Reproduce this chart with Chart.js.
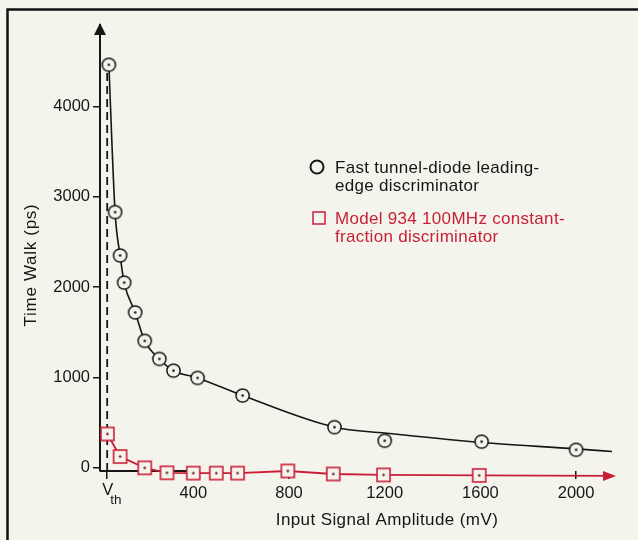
<!DOCTYPE html>
<html><head><meta charset="utf-8">
<script src="https://cdn.jsdelivr.net/npm/chart.js@4.4.1/dist/chart.umd.min.js"></script>
<style>html,body{margin:0;padding:0;background:#f5f4ec;overflow:hidden;}canvas{display:block;}</style>
</head><body>
<canvas id="c" width="638" height="540"></canvas>
<script>
// ---- data ----
const vthValue = 40;                                   // V_th position (mV)
const xTickValues = [40, 400, 800, 1200, 1600, 2000];
const yTickValues = [0, 1000, 2000, 3000, 4000];
const tunnelX = [47, 73, 94, 111, 157, 197, 258, 317, 418, 606, 990, 1200, 1605, 2000];
const tunnelY = [4460, 2830, 2350, 2050, 1720, 1405, 1205, 1075, 995, 800, 450, 300, 290, 200];
const tunnelCurveX = [47, 73, 94, 111, 157, 197, 258, 317, 418, 606, 990, 1200, 1605, 2000, 2150];
const tunnelCurveY = [4460, 2830, 2350, 2050, 1720, 1405, 1205, 1075, 995, 800, 450, 385, 280, 210, 180];
const cfdX = [41, 94, 197, 290, 400, 496, 585, 795, 985, 1195, 1595, 2150];
const cfdY = [375, 125, 0, -55, -58, -58, -58, -35, -68, -78, -84, -90];
const vthLineY = [-35, 4380];
const labelTunnel = ["Fast tunnel-diode leading-", "edge discriminator"];
const labelCfd = ["Model 934 100MHz constant-", "fraction discriminator"];
const xTitle = "Input Signal Amplitude (mV)";
const yTitle = "Time Walk (ps)";

const BG = '#f5f4ec';
const INK = '#161616';
const RED = '#c81f38';
const FONT = "'Liberation Sans', Arial, Helvetica, sans-serif";

function circleImg() {
  const c = document.createElement('canvas'); c.width = 17; c.height = 17;
  const g = c.getContext('2d');
  g.beginPath(); g.arc(8.5, 8.5, 6.6, 0, Math.PI * 2);
  g.fillStyle = BG; g.fill(); g.lineWidth = 1.5; g.strokeStyle = INK; g.stroke();
  g.beginPath(); g.arc(8.5, 8.5, 1.3, 0, Math.PI * 2); g.fillStyle = INK; g.fill();
  return c;
}
function squareImg() {
  const c = document.createElement('canvas'); c.width = 17; c.height = 17;
  const g = c.getContext('2d');
  g.fillStyle = BG; g.fillRect(2, 2, 13, 13);
  g.lineWidth = 1.6; g.strokeStyle = RED; g.strokeRect(2, 2, 13, 13);
  g.beginPath(); g.arc(8.5, 8.5, 1.2, 0, Math.PI * 2); g.fillStyle = '#6a1222'; g.fill();
  return c;
}

function txt(ctx, s, x, y, size, color, ls, align) {
  ctx.font = size + 'px ' + FONT;
  ctx.fillStyle = color;
  ctx.textAlign = align || 'left';
  ctx.textBaseline = 'alphabetic';
  ctx.letterSpacing = (ls || 0) + 'px';
  ctx.fillText(s, x, y);
  ctx.letterSpacing = '0px';
}

const deco = {
  id: 'deco',
  beforeDraw(chart) {
    const ctx = chart.ctx;
    ctx.save();
    ctx.fillStyle = BG; ctx.fillRect(0, 0, chart.width, chart.height);
    ctx.strokeStyle = '#111'; ctx.lineWidth = 2.5;
    ctx.beginPath(); ctx.moveTo(7.5, 540); ctx.lineTo(7.5, 9.5); ctx.lineTo(638, 9.5); ctx.stroke();
    ctx.restore();
  },
  beforeDatasetsDraw(chart) {
    const { ctx, chartArea: a, scales: { x } } = chart;
    ctx.save();
    ctx.strokeStyle = INK; ctx.lineWidth = 2;
    ctx.beginPath(); ctx.moveTo(a.left, a.bottom); ctx.lineTo(x.getPixelForValue(400), a.bottom); ctx.stroke();
    ctx.restore();
  },
  afterDraw(chart) {
    const { ctx, chartArea: a, scales: { x, y } } = chart;
    ctx.save();
    // y axis arrow
    ctx.fillStyle = INK;
    ctx.beginPath(); ctx.moveTo(a.left, a.top - 2); ctx.lineTo(a.left - 6, a.top + 10); ctx.lineTo(a.left + 6, a.top + 10); ctx.closePath(); ctx.fill();
    // red x arrow at the end of the CFD line
    const ex = x.getPixelForValue(cfdX[cfdX.length - 1]);
    const ey = y.getPixelForValue(cfdY[cfdY.length - 1]);
    ctx.fillStyle = RED;
    ctx.beginPath(); ctx.moveTo(ex + 4, ey); ctx.lineTo(ex - 9, ey - 5); ctx.lineTo(ex - 9, ey + 5); ctx.closePath(); ctx.fill();
    // V_th label
    const vx = x.getPixelForValue(vthValue);
    txt(ctx, 'V', vx - 5, 495, 16.5, INK, 0);
    txt(ctx, 'th', vx + 3, 504, 13.5, INK, 0);
    // axis titles
    txt(ctx, xTitle, 387, 525, 17, INK, 0.4, 'center');
    ctx.save(); ctx.translate(36, 265); ctx.rotate(-Math.PI / 2);
    txt(ctx, yTitle, 0, 0, 17, INK, 0.7, 'center');
    ctx.restore();
    // legend
    ctx.lineWidth = 2; ctx.strokeStyle = INK;
    ctx.beginPath(); ctx.arc(317, 167, 6.5, 0, Math.PI * 2); ctx.stroke();
    txt(ctx, labelTunnel[0], 335, 172.5, 17, INK, 0.3);
    txt(ctx, labelTunnel[1], 335, 191, 17, INK, 0.3);
    ctx.lineWidth = 1.5; ctx.strokeStyle = RED;
    ctx.strokeRect(313, 212, 12, 12);
    txt(ctx, labelCfd[0], 335, 223.5, 17, RED, 0.3);
    txt(ctx, labelCfd[1], 335, 242, 17, RED, 0.3);
    ctx.restore();
  }
};

const pts = (xs, ys) => xs.map((v, i) => ({ x: v, y: ys[i] }));
const cImg = circleImg(), sImg = squareImg();

new Chart(document.getElementById('c'), {
  type: 'scatter',
  data: {
    datasets: [
      { label: labelTunnel.join(' '), data: pts(tunnelX, tunnelY), showLine: false,
        pointStyle: cImg, pointRadius: 8, order: 0, clip: false },
      { label: labelCfd.join(' '), data: pts(cfdX, cfdY), showLine: true,
        borderColor: RED, borderWidth: 1.8, tension: 0,
        pointStyle: sImg, pointRadius: cfdX.map((v, i) => i === cfdX.length - 1 ? 0 : 8),
        order: 1, clip: false },
      { label: 'curve', data: pts(tunnelCurveX, tunnelCurveY), showLine: true,
        borderColor: INK, borderWidth: 1.6, pointRadius: 0, cubicInterpolationMode: 'monotone',
        order: 2, clip: false },
      { label: 'Vth', data: [{ x: vthValue, y: vthLineY[0] }, { x: vthValue, y: vthLineY[1] }], showLine: true,
        borderColor: INK, borderWidth: 1.8, borderDash: [8, 5], pointRadius: 0, order: 3, clip: false }
    ]
  },
  options: {
    responsive: false, animation: false, devicePixelRatio: 1, events: [],
    layout: { padding: { left: 0, right: 26, top: 25, bottom: 0 } },
    plugins: { legend: { display: false }, tooltip: { enabled: false } },
    scales: {
      x: {
        type: 'linear', min: 10, max: 2150,
        afterBuildTicks: s => { s.ticks = xTickValues.map(v => ({ value: v })); },
        afterFit: s => { s.height = 69; },
        ticks: { callback: v => v === vthValue ? '' : String(v), color: INK, padding: 5,
                 font: { family: FONT, size: 16.5 }, maxRotation: 0, autoSkip: false },
        grid: { drawOnChartArea: false, drawTicks: true, tickLength: 8, color: INK, lineWidth: 1.5 },
        border: { display: false }
      },
      y: {
        type: 'linear', min: -35, max: 4900,
        afterBuildTicks: s => { s.ticks = yTickValues.map(v => ({ value: v })); },
        afterFit: s => { s.width = 100; },
        ticks: { callback: v => String(v), color: INK, padding: 3, font: { family: FONT, size: 16.5 } },
        grid: { drawOnChartArea: false, drawTicks: true, tickLength: 7, color: INK, lineWidth: 1.5 },
        border: { display: true, color: INK, width: 2 }
      }
    }
  },
  plugins: [deco]
});
</script>
</body></html>
